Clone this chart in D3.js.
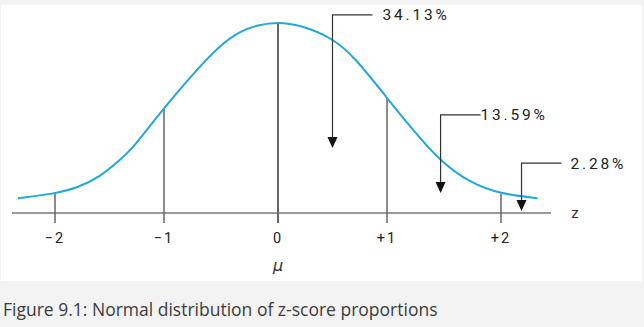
<!DOCTYPE html>
<html>
<head>
<meta charset="utf-8">
<script src="https://cdn.jsdelivr.net/npm/d3@7"></script>
<style>
    html, body { margin: 0; padding: 0; background: #f3f3f3; }
    svg { display: block; }
</style>
</head>
<body>
<div id="chart"></div>
<script>
// curve: z position and height (density-like units)
const curveZ = [-2.34, -2.01, -1.80, -1.59, -1.40, -1.28, -1.16, -1.00, -0.77, -0.51, -0.33, -0.18, 0, 0.20, 0.50, 0.71, 1.00, 1.23, 1.47, 1.73, 1.99, 2.32];
const curveH = [0.031, 0.040, 0.052, 0.075, 0.111, 0.138, 0.173, 0.219, 0.284, 0.351, 0.380, 0.393, 0.399, 0.393, 0.366, 0.324, 0.240, 0.173, 0.107, 0.063, 0.040, 0.031];

// standard deviation markers
const sdZ = [-2, -1, 0, 1, 2];
const sdTop = [0.040, 0.219, 0.399, 0.240, 0.040];
const sdLabels = ["\u22122", "\u22121", "0", "+1", "+2"];

// proportion call-outs
const noteLabels = ["34.13%", "13.59%", "2.28%"];
const noteZ = [0.50, 1.47, 2.18];
const noteTop = [0.414, 0.205, 0.104];
const noteTip = [0.136, 0.042, 0.004];

const caption = "Figure 9.1: Normal distribution of z-score proportions";

const W = 644, H = 327;
const axisY = 213;

const svg = d3.select("#chart").append("svg")
    .attr("width", W)
    .attr("height", H);

// page background + white figure panel
svg.append("rect").attr("width", W).attr("height", H).attr("fill", "#f3f3f3");
svg.append("rect")
    .attr("x", 1).attr("y", 5)
    .attr("width", 641).attr("height", 276)
    .attr("fill", "#ffffff");

// the printed figure is hand spaced, so the sd marks are not quite even
const xScale = d3.scaleLinear().domain(sdZ).range([55, 164, 278, 387, 501]);
const yScale = d3.scaleLinear().domain([0, 0.399]).range([axisY, 22]);

// baseline
svg.append("line")
    .attr("x1", 12).attr("x2", 551)
    .attr("y1", axisY).attr("y2", axisY)
    .attr("stroke", "#777").attr("stroke-width", 1.5);

// sd verticals with tick below axis
svg.selectAll(".sd")
    .data(sdZ)
    .join("line")
    .attr("class", "sd")
    .attr("x1", d => xScale(d)).attr("x2", d => xScale(d))
    .attr("y1", (d, i) => yScale(sdTop[i]))
    .attr("y2", axisY + 10)
    .attr("stroke", "#666")
    .attr("stroke-width", d => d === 0 ? 2 : 1.5);

svg.selectAll(".sd-label")
    .data(sdZ)
    .join("text")
    .attr("class", "sd-label")
    .attr("x", d => xScale(d))
    .attr("y", 243)
    .attr("text-anchor", "middle")
    .attr("font-family", "Roboto, sans-serif")
    .attr("font-size", 14.5)
    .attr("letter-spacing", 2)
    .attr("fill", "#222")
    .text((d, i) => sdLabels[i]);

// normal curve (basis smooths out reading error in the points)
const curvePts = curveZ.map((z, i) => [z, curveH[i]]);
svg.append("path")
    .datum(curvePts)
    .attr("fill", "none")
    .attr("stroke", "#22a8d8")
    .attr("stroke-width", 2)
    .attr("d", d3.line()
        .x(d => xScale(d[0]))
        .y(d => yScale(d[1]))
        .curve(d3.curveBasis));

// call-out arrows
const textGap = [10, 0, 9];
noteLabels.forEach((label, i) => {
    const x = xScale(noteZ[i]);
    const yTop = yScale(noteTop[i]);
    const yTip = yScale(noteTip[i]);

    svg.append("path")
        .attr("d", `M${x + 40},${yTop} H${x} V${yTip - 8}`)
        .attr("fill", "none")
        .attr("stroke", "#333")
        .attr("stroke-width", 1.2);

    svg.append("path")
        .attr("d", `M${x - 5},${yTip - 11} L${x + 5},${yTip - 11} L${x},${yTip} Z`)
        .attr("fill", "#111");

    svg.append("text")
        .attr("x", x + 40 + textGap[i])
        .attr("y", yTop)
        .attr("dy", "0.36em")
        .attr("font-family", "Roboto, sans-serif")
        .attr("font-size", 15.5)
        .attr("letter-spacing", 2.8)
        .attr("fill", "#222")
        .text(label);
});

// axis name and mean symbol
svg.append("text")
    .attr("x", 575).attr("y", axisY)
    .attr("dy", "0.35em")
    .attr("text-anchor", "middle")
    .attr("font-family", "Roboto, sans-serif")
    .attr("font-size", 15)
    .attr("fill", "#333")
    .text("z");

svg.append("text")
    .attr("x", xScale(0)).attr("y", 265)
    .attr("dy", "0.35em")
    .attr("text-anchor", "middle")
    .attr("font-family", "DejaVu Sans, sans-serif")
    .attr("font-style", "italic")
    .attr("font-size", 16)
    .attr("fill", "#333")
    .text("\u03bc");

svg.append("text")
    .attr("x", 3).attr("y", 316)
    .attr("font-family", "'Open Sans', sans-serif")
    .attr("font-size", 17.5)
    .attr("fill", "#3c3c3c")
    .text(caption);
</script>
</body>
</html>
